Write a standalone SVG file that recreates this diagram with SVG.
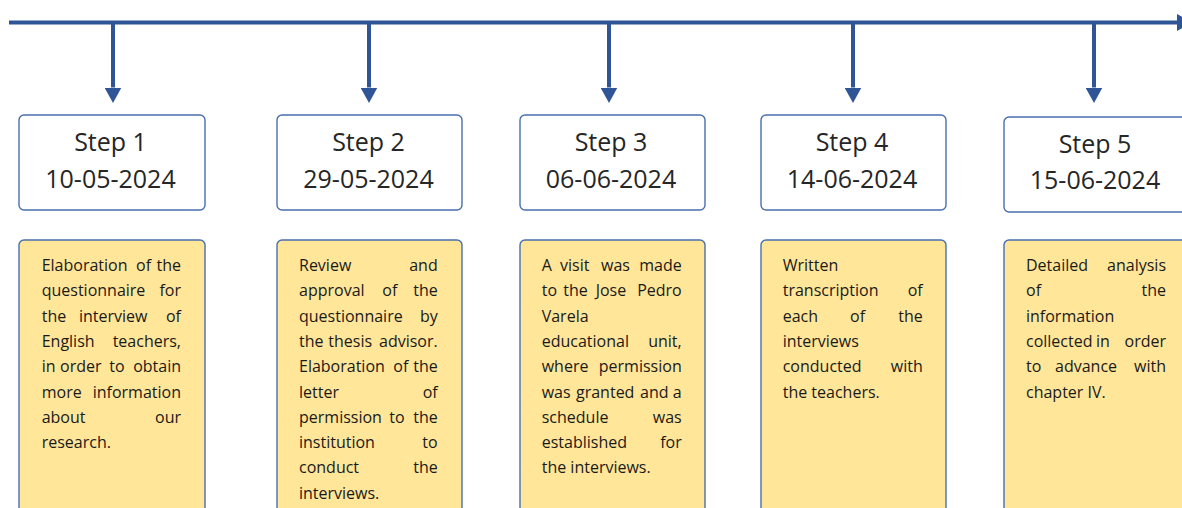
<svg xmlns="http://www.w3.org/2000/svg" width="1182" height="508" viewBox="0 0 1182 508">
<style>
.bg{fill:#ffffff}
.line{stroke:#2F5597;stroke-width:4;fill:none}
.step{fill:#ffffff;stroke:#4A6FB0;stroke-width:1.4}
.desc{fill:#FFE699;stroke:#4A6FB0;stroke-width:1.4}
.t{font-family:"Open Sans","Noto Sans",sans-serif;font-size:25px;fill:#262626;text-anchor:middle}
.d{font-family:"Open Sans","Noto Sans",sans-serif;font-size:16px;fill:#1a1a1a}
.r{text-anchor:end}
</style>
<defs>
<marker id="ah" markerUnits="userSpaceOnUse" markerWidth="17" markerHeight="17" refX="0" refY="8.5" orient="auto" viewBox="0 0 17 17">
<path d="M0,0 L15.5,8.5 L0,17 Z" fill="#2F5597"/>
</marker>
</defs>
<rect class="bg" x="0" y="0" width="1182" height="508"/>
<g id="connectors">
<line class="line" x1="9" y1="22.5" x2="1177" y2="22.5" marker-end="url(#ah)"/>
<line class="line" x1="113" y1="22" x2="113" y2="87.5" marker-end="url(#ah)"/>
<line class="line" x1="369" y1="22" x2="369" y2="87.5" marker-end="url(#ah)"/>
<line class="line" x1="609" y1="22" x2="609" y2="87.5" marker-end="url(#ah)"/>
<line class="line" x1="853" y1="22" x2="853" y2="87.5" marker-end="url(#ah)"/>
<line class="line" x1="1094" y1="22" x2="1094" y2="87.5" marker-end="url(#ah)"/>
</g>
<g id="step1">
<rect class="step" x="19" y="115" width="186" height="95" rx="5"/>
<text class="t" x="110.5" y="151">Step 1</text>
<text class="t" x="110.5" y="187.5">10-05-2024</text>
</g>
<g id="step2">
<rect class="step" x="277" y="115" width="185" height="95" rx="5"/>
<text class="t" x="368.5" y="151">Step 2</text>
<text class="t" x="368.5" y="187.5">29-05-2024</text>
</g>
<g id="step3">
<rect class="step" x="520" y="115" width="185" height="95" rx="5"/>
<text class="t" x="611" y="151">Step 3</text>
<text class="t" x="611" y="187.5">06-06-2024</text>
</g>
<g id="step4">
<rect class="step" x="761" y="115" width="185" height="95" rx="5"/>
<text class="t" x="852" y="151">Step 4</text>
<text class="t" x="852" y="187.5">14-06-2024</text>
</g>
<g id="step5">
<rect class="step" x="1004" y="117" width="190" height="95" rx="5"/>
<text class="t" x="1095" y="153">Step 5</text>
<text class="t" x="1095" y="189">15-06-2024</text>
</g>
<g id="desc1">
<rect class="desc" x="19" y="240" width="186" height="290" rx="5"/>
<text class="d" x="41.7" y="271">Elaboration</text><text class="d" x="136" y="271">of</text><text class="d r" x="181" y="271">the</text>
<text class="d" x="41.7" y="296.3">questionnaire</text><text class="d r" x="181" y="296.3">for</text>
<text class="d" x="41.7" y="321.6">the</text><text class="d" x="79" y="321.6">interview</text><text class="d r" x="181" y="321.6">of</text>
<text class="d" x="41.7" y="346.9">English</text><text class="d r" x="181" y="346.9">teachers,</text>
<text class="d" x="41.7" y="372.2">in</text><text class="d" x="60" y="372.2">order</text><text class="d" x="109.3" y="372.2">to</text><text class="d r" x="181" y="372.2">obtain</text>
<text class="d" x="41.7" y="397.5">more</text><text class="d r" x="181" y="397.5">information</text>
<text class="d" x="41.7" y="422.8">about</text><text class="d r" x="181" y="422.8">our</text>
<text class="d" x="41.7" y="448.1">research.</text>
</g>
<g id="desc2">
<rect class="desc" x="277" y="240" width="185" height="290" rx="5"/>
<text class="d" x="299" y="271">Review</text><text class="d r" x="437.7" y="271">and</text>
<text class="d" x="299" y="296.3">approval</text><text class="d" x="382.3" y="296.3">of</text><text class="d r" x="437.7" y="296.3">the</text>
<text class="d" x="299" y="321.6">questionnaire</text><text class="d r" x="437.7" y="321.6">by</text>
<text class="d" x="299" y="346.9">the</text><text class="d" x="328.3" y="346.9">thesis</text><text class="d r" x="437.7" y="346.9">advisor.</text>
<text class="d" x="299" y="372.2">Elaboration</text><text class="d" x="393.3" y="372.2">of</text><text class="d r" x="437.7" y="372.2">the</text>
<text class="d" x="299" y="397.5">letter</text><text class="d r" x="437.7" y="397.5">of</text>
<text class="d" x="299" y="422.8">permission</text><text class="d" x="389.3" y="422.8">to</text><text class="d r" x="437.7" y="422.8">the</text>
<text class="d" x="299" y="448.1">institution</text><text class="d r" x="437.7" y="448.1">to</text>
<text class="d" x="299" y="473.4">conduct</text><text class="d r" x="437.7" y="473.4">the</text>
<text class="d" x="299" y="498.7">interviews.</text>
</g>
<g id="desc3">
<rect class="desc" x="520" y="240" width="185" height="290" rx="5"/>
<text class="d" x="541.7" y="271">A</text><text class="d" x="560" y="271">visit</text><text class="d" x="601" y="271">was</text><text class="d r" x="681.7" y="271">made</text>
<text class="d" x="541.7" y="296.3">to</text><text class="d" x="563.3" y="296.3">the</text><text class="d" x="595.7" y="296.3">Jose</text><text class="d r" x="681.7" y="296.3">Pedro</text>
<text class="d" x="541.7" y="321.6">Varela</text>
<text class="d" x="541.7" y="346.9">educational</text><text class="d r" x="681.7" y="346.9">unit,</text>
<text class="d" x="541.7" y="372.2">where</text><text class="d r" x="681.7" y="372.2">permission</text>
<text class="d" x="541.7" y="397.5">was</text><text class="d" x="576" y="397.5">granted</text><text class="d" x="640" y="397.5">and</text><text class="d r" x="681.7" y="397.5">a</text>
<text class="d" x="541.7" y="422.8">schedule</text><text class="d r" x="681.7" y="422.8">was</text>
<text class="d" x="541.7" y="448.1">established</text><text class="d r" x="681.7" y="448.1">for</text>
<text class="d" x="541.7" y="473.4">the interviews.</text>
</g>
<g id="desc4">
<rect class="desc" x="761" y="240" width="185" height="290" rx="5"/>
<text class="d" x="782.7" y="271">Written</text>
<text class="d" x="782.7" y="296.3">transcription</text><text class="d r" x="922.7" y="296.3">of</text>
<text class="d" x="782.7" y="321.6">each</text><text class="d" x="850" y="321.6">of</text><text class="d r" x="922.7" y="321.6">the</text>
<text class="d" x="782.7" y="346.9">interviews</text>
<text class="d" x="782.7" y="372.2">conducted</text><text class="d r" x="922.7" y="372.2">with</text>
<text class="d" x="782.7" y="397.5">the teachers.</text>
</g>
<g id="desc5">
<rect class="desc" x="1004" y="240" width="190" height="290" rx="5"/>
<text class="d" x="1026" y="271">Detailed</text><text class="d r" x="1166" y="271">analysis</text>
<text class="d" x="1026" y="296.3">of</text><text class="d r" x="1166" y="296.3">the</text>
<text class="d" x="1026" y="321.6">information</text>
<text class="d" x="1026" y="346.9">collected</text><text class="d" x="1096" y="346.9">in</text><text class="d r" x="1166" y="346.9">order</text>
<text class="d" x="1026" y="372.2">to</text><text class="d" x="1055" y="372.2">advance</text><text class="d r" x="1166" y="372.2">with</text>
<text class="d" x="1026" y="397.5">chapter IV.</text>
</g>
</svg>
